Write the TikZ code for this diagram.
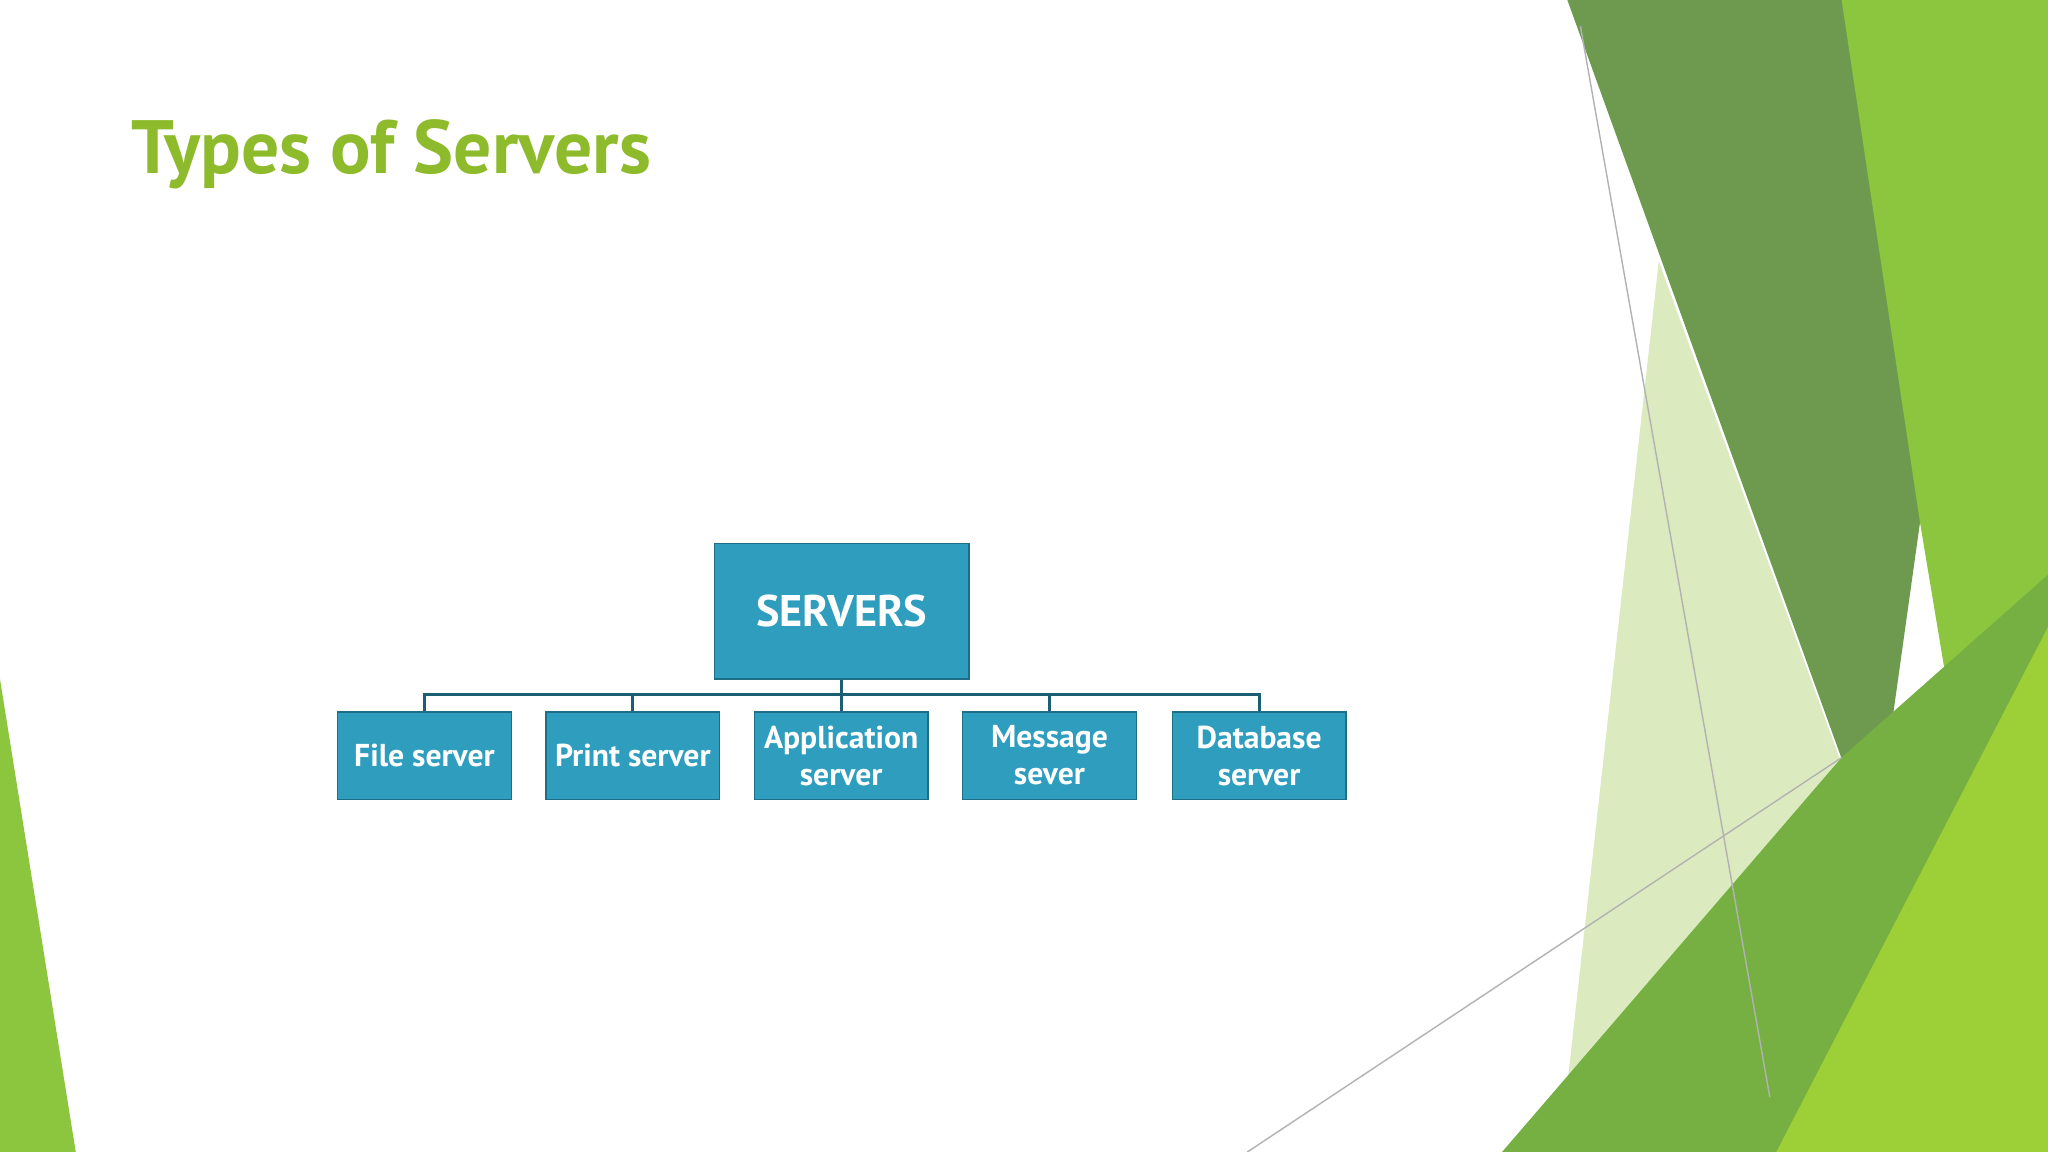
\documentclass[tikz,border=0pt]{standalone}
\usepackage{fontspec}
\setmainfont{PT Sans}
\definecolor{ttl}{HTML}{8DBB2B}
\definecolor{boxc}{HTML}{2E9DBE}
\definecolor{dgreen}{HTML}{6E9A50}
\definecolor{lime}{HTML}{8CC63F}
\definecolor{mgreen}{HTML}{76B043}
\definecolor{pale}{HTML}{DCEAC0}
\begin{document}
\begin{tikzpicture}[x=0.01306cm,y=-0.01306cm,
  box/.style={draw=boxc!70!black,fill=boxc,text=white,font=\bfseries,align=center,inner sep=0pt,minimum width=#1*0.01306cm},
  bus/.style={draw=boxc!60!black,line width=0.8pt}]
\fill[white] (0,0) rectangle (1568,882);
\useasboundingbox (0,0) rectangle (1568,882);
% decorations
\fill[pale] (1270,200) -- (1430,640) -- (1200,830) -- cycle;
\fill[dgreen] (1200,0) -- (1535,0) -- (1470,400) -- (1435,650) -- cycle;
\fill[lime] (1410,0) -- (1568,0) -- (1568,882) -- (1355,882) -- (1500,580) -- (1470,400) -- cycle;
\fill[mgreen] (1150,882) -- (1410,580) -- (1568,440) -- (1568,882) -- cycle;
\fill[lime!85!yellow] (1360,882) -- (1568,480) -- (1568,882) -- cycle;
\fill[lime] (0,520) -- (58,882) -- (0,882) -- cycle;
\draw[gray!60,line width=0.4pt] (1210,20) -- (1355,840);
\draw[gray!60,line width=0.4pt] (955,882) -- (1410,580);
% title
\node[anchor=west,inner sep=0pt,text=ttl,font=\bfseries\fontsize{21.5}{26}\selectfont] (title) at (100,118) {Types of Servers};
% boxes
\node[box=195,minimum height=104*0.01306cm,font=\bfseries\fontsize{12.6}{15}\selectfont] (srv) at (644.5,468) {SERVERS};
\tikzset{child/.style={box=133,minimum height=67*0.01306cm,font=\bfseries\fontsize{9}{10.5}\selectfont}}
\node[child] (c1) at (325,578.5) {File server};
\node[child] (c2) at (484.5,578.5) {Print server};
\node[child] (c3) at (644,578.5) {Application\\server};
\node[child] (c4) at (803.5,578.5) {Message\\sever};
\node[child] (c5) at (964,578.5) {Database\\server};
\coordinate (b) at (644.5,532);
\draw[bus] (srv.south) -- (b);
\draw[bus] (c1.north) |- (b) -| (c5.north);
\foreach \c in {c2,c3,c4} \draw[bus] (\c.north) -- (\c.north |- b);
\end{tikzpicture}
\end{document}
